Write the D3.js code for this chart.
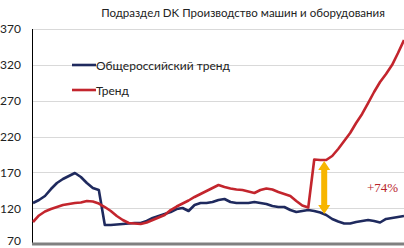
<!DOCTYPE html>
<html>
<head>
<meta charset="utf-8">
<script src="https://cdn.jsdelivr.net/npm/d3@7"></script>
<style>
  body { margin: 0; background: #fff; }
  svg { display: block; }
</style>
</head>
<body>
<div id="chart"></div>
<script>
// chart data (index values)
var title = "Подраздел DK Производство машин и оборудования";
var seriesNames = ["Общероссийский тренд", "Тренд"];
var yTicks = [70, 120, 170, 220, 270, 320, 370];

var russiaTrend = [127.2, 131.4, 137, 146.7, 155.1, 160.7, 164.9, 169.1, 163.5, 155.1,
  148.1, 145.3, 96.5, 96.5, 97.2, 97.9, 98.6, 99.3, 99.3, 102.1,
  106.3, 109.1, 111.9, 114.6, 118.8, 120.2, 116, 124.4, 127.2, 127.2,
  128.6, 131.4, 132.8, 128.6, 127.2, 127.2, 127.2, 128.6, 127.2, 125.8,
  123, 121.6, 121.6, 117.4, 114.6, 116, 117.4, 116, 113.9, 110.5,
  104.9, 101.4, 98.6, 98.6, 100.7, 102.1, 103.5, 102.1, 100, 104.9,
  106.3, 107.7, 109.1];

var trend = [100.7, 109.8, 115.3, 118.8, 121.6, 124.4, 125.8, 127.2, 127.9, 130,
  129.3, 126.5, 121.6, 116, 109.1, 103.5, 99.3, 98.6, 97.9, 100,
  103.5, 107, 110.5, 117.4, 122.3, 126.5, 130.7, 135.6, 139.8, 143.9,
  148.1, 152.3, 149.5, 147.4, 146, 145.3, 143.3, 141.2, 145.3, 147.4,
  146, 142.6, 139.8, 137, 130, 123.7, 120.9, 187.9, 187.2, 187.2,
  192.8, 202.6, 213.7, 224.9, 238.8, 251.4, 266.7, 282.1, 296, 307.2,
  319.7, 336.5, 354.6];

var gapIndex = 49;        // where the double arrow is drawn
var gapLabel = "+74%";

var width = 404, height = 248;
var margin = {top: 29, right: 0, bottom: 4, left: 33};
var w = width - margin.left - margin.right,
    h = height - margin.top - margin.bottom;

var svg = d3.select("#chart")
  .append("svg")
    .attr("width", width)
    .attr("height", height);

var g = svg.append("g")
    .attr("transform", "translate(" + margin.left + "," + margin.top + ")");

var x = d3.scaleLinear()
  .domain([0, russiaTrend.length - 1])
  .range([0, w]);

var y = d3.scaleLinear()
  .domain([70, 370])
  .range([h, 0]);

// gridlines
g.selectAll(".grid")
  .data(yTicks.filter(function(d) { return d > 70; }))
  .enter()
  .append("line")
    .attr("x1", 0)
    .attr("x2", w)
    .attr("y1", function(d) { return Math.round(y(d)) + 0.5; })
    .attr("y2", function(d) { return Math.round(y(d)) + 0.5; })
    .style("stroke", "#d9d9d9")
    .style("stroke-width", 1);

// y axis labels
var yAxis = d3.axisLeft(y)
  .tickValues(yTicks)
  .tickSize(0)
  .tickPadding(12);
var ya = g.append("g").call(yAxis);
ya.select(".domain").remove();
ya.selectAll("text")
  .style("font-family", "Lato, 'Open Sans', sans-serif")
  .style("font-size", "12px")
  .style("fill", "#222");
// bottom label sits on the page edge, nudge it up so it stays whole
ya.selectAll(".tick")
  .filter(function(d) { return d === 70; })
  .select("text")
  .attr("dy", "0.05em");

// axis lines
g.append("line")
  .attr("x1", -0.5).attr("x2", -0.5)
  .attr("y1", 0).attr("y2", h)
  .style("stroke", "#000")
  .style("stroke-width", 1);

g.append("line")
  .attr("x1", -1).attr("x2", w)
  .attr("y1", h).attr("y2", h)
  .style("stroke", "#808080")
  .style("stroke-width", 3);

var line = d3.line()
  .x(function(d, i) { return x(i); })
  .y(function(d) { return y(d); });

g.append("path")
  .datum(russiaTrend)
  .attr("d", line)
  .style("fill", "none")
  .style("stroke", "#1f2a5e")
  .style("stroke-width", 2.6)
  .style("stroke-linejoin", "round");

g.append("path")
  .datum(trend)
  .attr("d", line)
  .style("fill", "none")
  .style("stroke", "#c3252d")
  .style("stroke-width", 2.6)
  .style("stroke-linejoin", "round");

// double arrow between the two lines
var ax = x(gapIndex) - 2,
    aTop = y(trend[gapIndex]) + 1,
    aBot = y(russiaTrend[gapIndex]) - 1;
var headH = 9, headW = 6, shaft = 3;
g.append("path")
  .attr("d",
    "M" + ax + "," + aTop +
    "L" + (ax + headW) + "," + (aTop + headH) +
    "L" + (ax + shaft) + "," + (aTop + headH) +
    "L" + (ax + shaft) + "," + (aBot - headH) +
    "L" + (ax + headW) + "," + (aBot - headH) +
    "L" + ax + "," + aBot +
    "L" + (ax - headW) + "," + (aBot - headH) +
    "L" + (ax - shaft) + "," + (aBot - headH) +
    "L" + (ax - shaft) + "," + (aTop + headH) +
    "L" + (ax - headW) + "," + (aTop + headH) + "Z")
  .style("fill", "#f7b500");

g.append("text")
  .attr("x", 334)
  .attr("y", y((trend[gapIndex] + russiaTrend[gapIndex]) / 2) + 5)
  .text(gapLabel)
  .style("font-family", "'Liberation Serif', 'Times New Roman', serif")
  .style("font-size", "13px")
  .style("fill", "#b8242c");

// title
svg.append("text")
  .attr("x", 243)
  .attr("y", 17)
  .attr("text-anchor", "middle")
  .text(title)
  .style("font-family", "Lato, 'Open Sans', sans-serif")
  .style("font-size", "11.5px")
  .style("fill", "#222");

// legend
var legendColors = ["#1f2a5e", "#c3252d"];
var legend = svg.selectAll(".legend")
  .data(seriesNames)
  .enter()
  .append("g")
    .attr("transform", function(d, i) { return "translate(72," + (65 + i * 25) + ")"; });

legend.append("line")
  .attr("x1", 0).attr("x2", 24)
  .attr("y1", 0).attr("y2", 0)
  .style("stroke", function(d, i) { return legendColors[i]; })
  .style("stroke-width", 2.6);

legend.append("text")
  .attr("x", 24)
  .attr("y", 0)
  .attr("dominant-baseline", "central")
  .text(function(d) { return d; })
  .style("font-family", "Lato, 'Open Sans', sans-serif")
  .style("font-size", "12px")
  .style("fill", "#222");
</script>
</body>
</html>
